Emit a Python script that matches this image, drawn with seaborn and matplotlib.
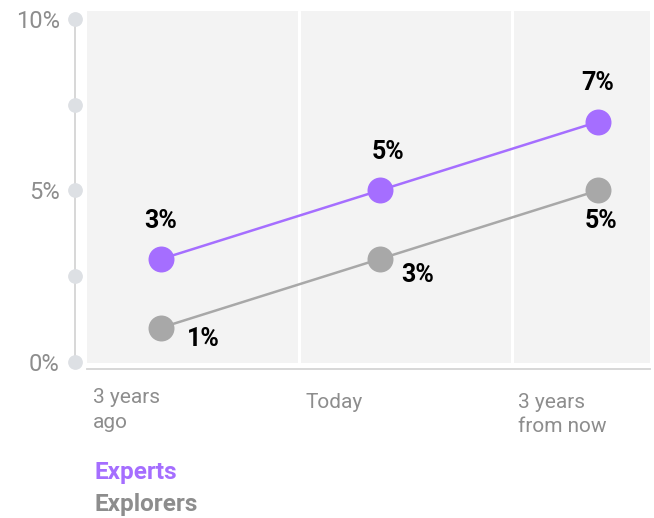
import matplotlib
matplotlib.use("Agg")
import matplotlib.pyplot as plt
import matplotlib.transforms as mtrans
import pandas as pd
import seaborn as sns

# data
periods = ["3 years\nago", "Today", "3 years\nfrom now"]
experts = [3, 5, 7]
explorers = [1, 3, 5]
groups = ["Experts", "Explorers"]
colors = {"Experts": "#a56eff", "Explorers": "#a8a8a8"}
label_colors = {"Experts": "#a56eff", "Explorers": "#8d8d8d"}
yticks = [0, 5, 10]
ytick_labels = ["0%", "5%", "10%"]
ydots = [0, 2.5, 5, 7.5, 10]

df = pd.DataFrame({
    "pos": list(range(len(periods))) * 2,
    "value": experts + explorers,
    "group": ["Experts"] * 3 + ["Explorers"] * 3,
})

sns.set_theme(style="white")
plt.rcParams["font.family"] = ["Roboto", "DejaVu Sans"]

fig = plt.figure(figsize=(6.54, 5.18), dpi=100)
ax = fig.add_axes([87 / 654, 1 - 363 / 518, (650 - 87) / 654, (363 - 11) / 518])
ax.set_facecolor("#f3f3f3")

# band separators
band_edges = [-0.339, 0.632, 1.606]
for b in band_edges[1:]:
    ax.axvline(b, color="white", lw=2.2, zorder=1)

sns.lineplot(data=df, x="pos", y="value", hue="group", palette=colors,
             marker="o", markersize=18.7, markeredgewidth=0, linewidth=1.8,
             legend=False, ax=ax, zorder=3)

ax.set_xlim(-0.339, 2.238)
ax.set_ylim(-0.029, 10.23)

# value labels
px = 0.72
offsets = {
    "Experts": [(0, 38), (9, 38), (0, 39)],
    "Explorers": [(42, -11), (38, -16), (3, -31)],
}
for g, vals in zip(groups, [experts, explorers]):
    for i, v in enumerate(vals):
        dx, dy = offsets[g][i]
        ax.annotate(f"{v}%", (i, v), xytext=(dx * px, dy * px),
                    textcoords="offset points", ha="center", va="center",
                    fontsize=18, fontweight="bold", color="black", zorder=4)

# spines
for s in ["top", "right"]:
    ax.spines[s].set_visible(False)
ax.spines["left"].set_position(("outward", 12 * px))
ax.spines["left"].set_bounds(0, 10)
ax.spines["left"].set_color("#d4d4d4")
ax.spines["left"].set_linewidth(1.3)
ax.spines["bottom"].set_position(("outward", 6 * px))
ax.spines["bottom"].set_color("#d4d4d4")
ax.spines["bottom"].set_linewidth(1.3)

# y ticks
ax.set_yticks(yticks)
ax.set_yticklabels(ytick_labels)
ax.tick_params(axis="y", length=0, pad=11, labelsize=17, labelcolor="#8d8d8d")
dot_tr = mtrans.blended_transform_factory(ax.transAxes, ax.transData) + \
    mtrans.ScaledTranslation(-12 / 100, 0, fig.dpi_scale_trans)
ax.plot([0] * len(ydots), ydots, "o", color="#dde0e4", markersize=9.6,
        transform=dot_tr, clip_on=False, zorder=5)

# x labels at the left of each band
ax.set_xticks([])
ax.set_xlabel("")
ax.set_ylabel("")
lab_tr = mtrans.blended_transform_factory(ax.transData, ax.transAxes) + \
    mtrans.ScaledTranslation(6 / 100, 0, fig.dpi_scale_trans)
label_tops = [-0.072, -0.085, -0.085]
for edge, p, top in zip(band_edges, periods, label_tops):
    ax.text(edge, top, p, transform=lab_tr, ha="left", va="top",
            fontsize=15, color="#8d8d8d", linespacing=1.35)

# legend as coloured text
for i, g in enumerate(groups):
    fig.text(95 / 654, 1 - (472 + i * 32) / 518, g, ha="left", va="center",
             fontsize=17.5, fontweight="bold", color=label_colors[g])

fig.savefig("out.png", dpi=100)
